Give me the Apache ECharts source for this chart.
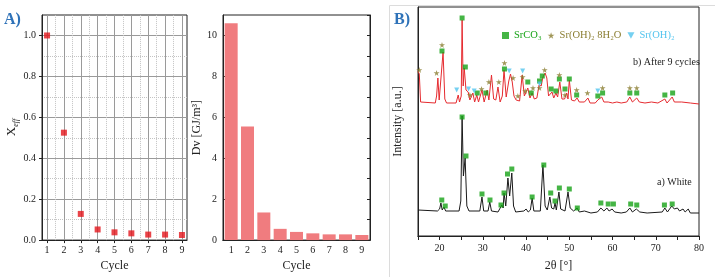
<!DOCTYPE html>
<html>
<head>
<meta charset="utf-8">
<script src="https://cdn.jsdelivr.net/npm/echarts@6/dist/echarts.min.js"></script>
<style>
html, body { margin: 0; padding: 0; background: #fff; }
#chart { width: 715px; height: 277px; }
</style>
</head>
<body>
<div id="chart"></div>
<script>
// ---- panel A: cycles ----
const cycles = [1, 2, 3, 4, 5, 6, 7, 8, 9];
const cycleHalves = [1.5, 2.5, 3.5, 4.5, 5.5, 6.5, 7.5, 8.5];
const xEff = [1.0, 0.525, 0.128, 0.052, 0.038, 0.033, 0.027, 0.027, 0.025];
const xEffTicks = [0, 0.2, 0.4, 0.6, 0.8, 1.0];
const xEffMinor = [0.1, 0.3, 0.5, 0.7, 0.9];
const dvValues = [10.6, 5.55, 1.35, 0.55, 0.40, 0.33, 0.28, 0.28, 0.25];
const dvTicks = [0, 2, 4, 6, 8, 10];

// ---- panel B: XRD patterns (2theta, intensity a.u.) ----
const whiteCurve = [
  [15, 26], [19.5, 25], [20, 27], [20.3, 33], [20.6, 26], [21, 29], [21.4, 25],
  [24.5, 25], [24.9, 35], [25.2, 120], [25.5, 60], [25.9, 78], [26.3, 30], [26.8, 25],
  [29.3, 25], [29.8, 39], [30.2, 25], [31.2, 25], [31.6, 34], [32, 25], [33.5, 24],
  [34.4, 31], [34.7, 28], [34.9, 43], [35.3, 30], [35.8, 58], [36.2, 40], [36.7, 63],
  [37.1, 30], [37.6, 24], [39.5, 25], [40, 27], [40.5, 24], [41, 26], [41.4, 38],
  [41.8, 25], [43.3, 25], [43.9, 71], [44.4, 30], [44.9, 26], [45.5, 39], [45.9, 28],
  [46.4, 27], [46.7, 33], [47, 26], [47.6, 44], [48, 27], [49, 25], [49.7, 44],
  [50.2, 28], [51, 25], [51.8, 28], [52.3, 24], [53.5, 25], [55, 23], [56.5, 24],
  [57.3, 28], [58, 25], [58.7, 28], [59.2, 25], [59.9, 27], [60.5, 24], [62, 23],
  [63.2, 24], [64, 28], [64.6, 24], [65.5, 27], [66.3, 24], [68, 23], [71.5, 24],
  [72.1, 28], [72.7, 24], [73.7, 30], [74.3, 27], [75, 28], [75.5, 25], [76.3, 27],
  [76.8, 24], [77.5, 27], [78, 23], [80, 23]
];
const cycledCurve = [
  [15, 165], [15.3, 162], [15.6, 134], [16, 133], [19, 133], [19.3, 140], [19.6, 158],
  [19.9, 136], [20.3, 135], [20.8, 184], [21.2, 137], [21.6, 133], [23.8, 133],
  [24.3, 141], [24.6, 134], [25, 140], [25.2, 216], [25.45, 150], [25.7, 168],
  [26.1, 146], [26.6, 144], [27, 136], [27.7, 143], [28.1, 134], [28.6, 141], [29, 134],
  [29.8, 146], [30.3, 134], [31, 146], [31.4, 136], [32, 161], [32.5, 137], [33, 136],
  [33.5, 149], [34, 134], [34.5, 140], [34.9, 166], [35.4, 139], [36, 155], [36.4, 162],
  [36.8, 154], [37.2, 140], [37.7, 136], [38.1, 138], [38.5, 135], [39.1, 161],
  [39.6, 140], [40, 140], [40.4, 148], [40.9, 138], [41.4, 143], [41.9, 137], [42.5, 138],
  [43, 151], [43.5, 150], [43.9, 159], [44.4, 163], [44.8, 158], [45.2, 140], [45.6, 138],
  [46, 144], [46.4, 138], [46.9, 143], [47.3, 139], [47.8, 154], [48.3, 137], [48.9, 137],
  [49.4, 143], [49.7, 137], [50, 156], [50.5, 136], [51.2, 135], [51.8, 138], [52.3, 134],
  [53.5, 134], [54.3, 138], [54.8, 133], [56, 133], [56.6, 136], [57.5, 139], [58, 134],
  [59, 134], [60, 133], [61, 134], [62, 133], [63.3, 134], [64, 139], [64.6, 134],
  [65.6, 138], [66.2, 134], [67.5, 133], [69, 134], [70.5, 133], [72.1, 137], [72.6, 133],
  [73.8, 139], [74.3, 134], [76, 134], [78, 133], [80, 132]
];
// phase markers
const whiteSrCO3 = [
  [20.5, 36], [21.3, 30], [25.2, 119], [26.1, 80], [29.8, 42], [31.65, 36], [34.2, 31],
  [34.9, 43], [35.7, 62], [36.7, 67], [41.4, 39], [44.1, 71], [45.7, 43], [46.7, 35],
  [47.7, 48], [50, 47], [51.85, 28], [57.3, 33], [59, 32], [60.2, 32], [64.2, 32],
  [65.6, 31], [72, 31], [73.8, 32]
];
const cycledSrCO3 = [
  [20.55, 185], [25.2, 218], [25.95, 169], [28.7, 143], [30.7, 143], [35, 167], [40.4, 154],
  [41.2, 143], [43.1, 155], [43.75, 160], [45.8, 147], [46.9, 145], [47.7, 157], [49, 147],
  [50, 157], [51.7, 141], [56.6, 140], [57.7, 143], [64, 143], [65.6, 143], [72.1, 141],
  [73.9, 143]
];
const cycledHydrate = [
  [15.3, 166], [19.3, 163], [20.55, 191], [27, 141], [29.7, 147], [31.4, 154], [33.7, 154],
  [35, 173], [37, 158], [38.1, 140], [39.2, 159], [39.8, 145], [41.6, 148], [43.1, 148],
  [44.3, 166], [47.7, 161], [49, 141], [51.7, 146], [54.2, 143], [57.7, 148], [64, 148],
  [65.6, 148]
];
const cycledHydroxide = [
  [23.95, 146], [26.7, 147], [28, 145], [36.1, 165], [39.2, 165], [43.1, 152], [56.6, 145]
];

const serif = 'Liberation Serif';
const green = '#17a317';
const olive = '#8a7d30';
const blue = '#52c4ee';
const starPath = 'path://M50,0 L61,35 L98,35 L68,57 L79,91 L50,70 L21,91 L32,57 L2,35 L39,35 Z';
const downTriangle = 'path://M0,0 L10,0 L5,9 Z';

const axisColor = '#222';
const labelStyle = { fontFamily: serif, fontSize: 10, color: '#222' };
const nameStyle = { fontFamily: serif, fontSize: 12, color: '#222' };

const chart = echarts.init(document.getElementById('chart'));

// vertical grid lines of the Xeff panel (whole cycles solid, half cycles dotted)
const cycleGrid = cycles.map(c => ({ xAxis: c, lineStyle: { color: '#9a9a9a', type: 'solid', width: 1 } }))
  .concat(cycleHalves.map(c => ({ xAxis: c, lineStyle: { color: '#c4c4c4', type: 'dotted', width: 1 } })));

const option = {
  animation: false,
  textStyle: { fontFamily: serif },
  grid: [
    { left: 42, top: 15, width: 145, height: 227, show: true, borderColor: axisColor, borderWidth: 1 },
    { left: 223, top: 15, width: 147, height: 227, show: true, borderColor: axisColor, borderWidth: 1 },
    { left: 418, top: 7, width: 281, height: 229, show: true, borderColor: axisColor, borderWidth: 1 }
  ],
  xAxis: [
    {
      gridIndex: 0, type: 'value', min: 0.7, max: 9.3,
      axisLine: { onZero: false, lineStyle: { color: axisColor } },
      axisTick: { customValues: cycles, length: 3, lineStyle: { color: axisColor } },
      axisLabel: Object.assign({ customValues: cycles, margin: 5 }, labelStyle),
      splitLine: { show: false },
      name: 'Cycle', nameLocation: 'middle', nameGap: 16, nameTextStyle: nameStyle
    },
    {
      gridIndex: 1, type: 'category', data: cycles.map(String),
      axisLine: { lineStyle: { color: axisColor } },
      axisTick: { alignWithLabel: true, length: 3, lineStyle: { color: axisColor } },
      axisLabel: Object.assign({ margin: 5 }, labelStyle),
      name: 'Cycle', nameLocation: 'middle', nameGap: 16, nameTextStyle: nameStyle
    },
    {
      gridIndex: 1, type: 'category', position: 'top', data: cycles.map(String),
      axisLine: { lineStyle: { color: axisColor } },
      axisTick: { alignWithLabel: true, inside: true, length: 3, lineStyle: { color: axisColor } },
      axisLabel: { show: false }
    },
    {
      gridIndex: 2, type: 'value', min: 15, max: 80, interval: 5,
      axisLine: { onZero: false, lineStyle: { color: axisColor } },
      axisTick: { length: 3, lineStyle: { color: axisColor } },
      axisLabel: Object.assign({ margin: 7, formatter: v => (v % 10 === 0 ? String(v) : '') }, labelStyle),
      splitLine: { show: false },
      name: '2θ [°]', nameLocation: 'middle', nameGap: 24, nameTextStyle: nameStyle
    },
    {
      gridIndex: 2, type: 'value', position: 'top', min: 15, max: 80, interval: 5,
      axisLine: { lineStyle: { color: axisColor } },
      axisTick: { inside: true, length: 4, lineStyle: { color: axisColor } },
      axisLabel: { show: false },
      splitLine: { show: false }
    }
  ],
  yAxis: [
    {
      gridIndex: 0, type: 'value', min: 0, max: 1.1,
      axisLine: { show: true, lineStyle: { color: axisColor } },
      axisTick: { show: true, customValues: xEffTicks, length: 3, lineStyle: { color: axisColor } },
      axisLabel: Object.assign({ customValues: xEffTicks, margin: 6, formatter: v => v.toFixed(1) }, labelStyle),
      splitLine: { show: true, lineStyle: { color: '#9a9a9a' } },
      name: '{x|X}{s|eff}', nameLocation: 'middle', nameGap: 22,
      nameTextStyle: {
        rich: {
          x: { fontFamily: serif, fontSize: 13, color: '#222', lineHeight: 15, verticalAlign: 'top' },
          s: { fontFamily: serif, fontSize: 8, fontStyle: 'italic', color: '#222', lineHeight: 8, verticalAlign: 'bottom' }
        }
      }
    },
    {
      gridIndex: 0, type: 'value', position: 'right', min: 0, max: 1.1,
      axisLine: { show: false },
      axisTick: { show: false, customValues: xEffMinor },
      axisLabel: { show: false, customValues: xEffMinor },
      splitLine: { show: true, lineStyle: { color: '#c4c4c4', type: 'dotted' } }
    },
    {
      gridIndex: 1, type: 'value', min: 0, max: 11,
      axisLine: { show: true, lineStyle: { color: axisColor } },
      axisTick: { show: true, inside: true, customValues: dvTicks, length: 3, lineStyle: { color: axisColor } },
      axisLabel: Object.assign({ customValues: dvTicks, margin: 6 }, labelStyle),
      splitLine: { show: false },
      name: 'Dv [GJ/m³]', nameLocation: 'middle', nameGap: 14, nameTextStyle: nameStyle
    },
    {
      gridIndex: 1, type: 'value', position: 'right', min: 0, max: 11, interval: 1,
      axisLine: { show: true, lineStyle: { color: axisColor } },
      axisTick: { show: true, inside: true, length: 3, lineStyle: { color: axisColor } },
      axisLabel: { show: false },
      splitLine: { show: false }
    },
    {
      gridIndex: 2, type: 'value', min: 0, max: 229,
      axisLine: { show: true, lineStyle: { color: axisColor } },
      axisTick: { show: false },
      axisLabel: { show: false },
      splitLine: { show: false },
      name: 'Intensity [a.u.]', nameLocation: 'middle', nameGap: 14, nameTextStyle: nameStyle
    }
  ],
  legend: {
    left: 497, top: 25, itemWidth: 7, itemHeight: 7, itemGap: 6,
    textStyle: { fontFamily: serif, fontSize: 10.5 },
    data: [
      { name: 'SrCO₃', textStyle: { color: green } },
      { name: 'Sr(OH)₂ 8H₂O', textStyle: { color: olive } },
      { name: 'Sr(OH)₂', icon: downTriangle, textStyle: { color: blue } }
    ]
  },
  series: [
    {
      // carries only the vertical grid of the Xeff panel
      type: 'scatter', xAxisIndex: 0, yAxisIndex: 0, data: [], z: 1, silent: true,
      markLine: { silent: true, z: 1, symbol: 'none', label: { show: false }, data: cycleGrid }
    },
    {
      type: 'scatter', xAxisIndex: 0, yAxisIndex: 0, z: 4,
      data: cycles.map((c, i) => [c, xEff[i]]),
      symbol: 'rect', symbolSize: 6, itemStyle: { color: '#e3151b' }
    },
    {
      type: 'bar', xAxisIndex: 1, yAxisIndex: 2,
      data: dvValues, barWidth: 13,
      itemStyle: { color: '#f07c7f' }
    },
    {
      type: 'line', xAxisIndex: 3, yAxisIndex: 4, data: whiteCurve,
      showSymbol: false, lineStyle: { color: '#1a1a1a', width: 1 }
    },
    {
      type: 'line', xAxisIndex: 3, yAxisIndex: 4, data: cycledCurve,
      showSymbol: false, lineStyle: { color: '#e52a2f', width: 1 }
    },
    {
      name: 'SrCO₃', type: 'scatter', xAxisIndex: 3, yAxisIndex: 4, data: whiteSrCO3,
      symbol: 'rect', symbolSize: 5, itemStyle: { color: green }, z: 5
    },
    {
      name: 'SrCO₃', type: 'scatter', xAxisIndex: 3, yAxisIndex: 4, data: cycledSrCO3,
      symbol: 'rect', symbolSize: 5, itemStyle: { color: green }, z: 5
    },
    {
      name: 'Sr(OH)₂ 8H₂O', type: 'scatter', xAxisIndex: 3, yAxisIndex: 4, data: cycledHydrate,
      symbol: starPath, symbolSize: 6, itemStyle: { color: olive }, z: 5
    },
    {
      name: 'Sr(OH)₂', type: 'scatter', xAxisIndex: 3, yAxisIndex: 4, data: cycledHydroxide,
      symbol: downTriangle, symbolSize: 5, itemStyle: { color: blue }, z: 5
    }
  ],
  graphic: [
    {
      type: 'rect', left: 387, top: 3, z: -1,
      shape: { width: 326, height: 272 },
      style: { fill: 'none', stroke: '#dcdcdc', lineWidth: 1 }
    },
    { type: 'text', left: 4, top: 12, style: { text: 'A)', font: 'bold 16px "Liberation Serif"', fill: '#2e72b8' } },
    { type: 'text', left: 394, top: 12, style: { text: 'B)', font: 'bold 16px "Liberation Serif"', fill: '#2e72b8' } },
    { type: 'text', left: 633, top: 57, style: { text: 'b) After 9 cycles', font: '10px "Liberation Serif"', fill: '#222' } },
    { type: 'text', left: 657, top: 177, style: { text: 'a) White', font: '10px "Liberation Serif"', fill: '#222' } }
  ]
};

chart.setOption(option);
</script>
</body>
</html>
